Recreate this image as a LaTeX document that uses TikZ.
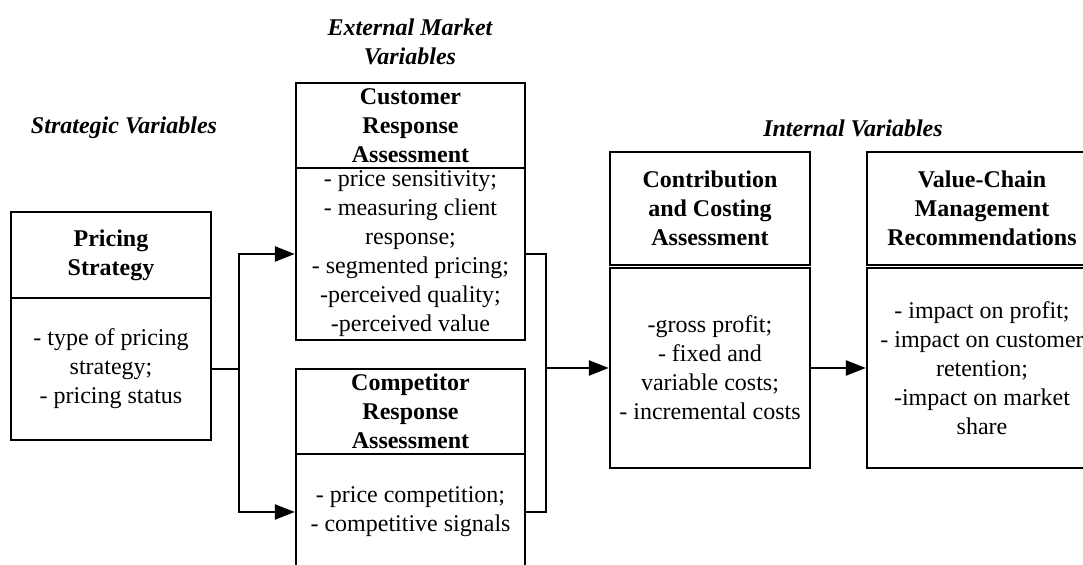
\documentclass[tikz,border=0pt]{standalone}
\usepackage{fontspec}
\setmainfont{Liberation Serif}
\usepackage{tikz}
\usetikzlibrary{arrows.meta}

\begin{document}
\begin{tikzpicture}[x=0.5pt,y=-0.5pt,
    font=\fontsize{12pt}{14.5pt}\selectfont,
    box/.style={draw, line width=1.2pt, rectangle, inner sep=0pt, align=center},
    head/.style={box, font=\fontsize{12pt}{14.5pt}\selectfont\bfseries},
    title/.style={align=center, font=\fontsize{12pt}{14.5pt}\selectfont\bfseries\itshape},
    link/.style={line width=1.2pt},
    arr/.style={link, -{Triangle[length=10pt,width=7.5pt]}}]
  \useasboundingbox (0,0) rectangle (1083,565);

  % group titles
  \node[title] (tstrat) at (124,128) {Strategic Variables};
  \node[title] (text) at (410,42) {External Market\\Variables};
  \node[title] (tint) at (853,128) {Internal Variables};

  % boxes
  \node[head, minimum width=100pt, minimum height=43pt] (ps) at (111,255) {Pricing\\Strategy};
  \node[box, minimum width=100pt, minimum height=71pt] (psb) at (111,369)
    {- type of pricing\\strategy;\\- pricing status};

  \node[head, minimum width=114.5pt, minimum height=42.5pt] (cr) at (410.5,125.5)
    {Customer\\Response\\Assessment};
  \node[box, minimum width=114.5pt, minimum height=86pt] (crb) at (410.5,254)
    {- price sensitivity;\\- measuring client\\response;\\- segmented pricing;\\-perceived quality;\\-perceived value};

  \node[head, minimum width=114.5pt, minimum height=42.5pt] (cp) at (410.5,411.5)
    {Competitor\\Response\\Assessment};
  \node[box, minimum width=114.5pt, minimum height=58pt] (cpb) at (410.5,512)
    {- price competition;\\- competitive signals};

  \node[head, minimum width=100pt, minimum height=56.5pt] (cc) at (710,208.5)
    {Contribution\\and Costing\\Assessment};
  \node[box, minimum width=100pt, minimum height=100pt] (ccb) at (710,368)
    {-gross profit;\\- fixed and\\variable costs;\\- incremental costs};

  \node[head, minimum width=115pt, minimum height=56.5pt] (vc) at (982,208.5)
    {Value-Chain\\Management\\Recommendations};
  \node[box, minimum width=115pt, minimum height=100pt] (vcb) at (982,368)
    {- impact on profit;\\- impact on customer\\retention;\\-impact on market\\share};

  % connectors
  \coordinate (j1) at (239,369);
  \coordinate (j2) at (546,368);
  \draw[link] (psb.east) -- (j1);
  \draw[arr] (j1) |- (crb.west);
  \draw[arr] (j1) |- (cpb.west);
  \draw[link] (crb.east) -| (j2);
  \draw[link] (cpb.east) -| (j2);
  \draw[arr] (j2) -- (ccb.west);
  \draw[arr] (ccb.east) -- (vcb.west);
\end{tikzpicture}
\end{document}
